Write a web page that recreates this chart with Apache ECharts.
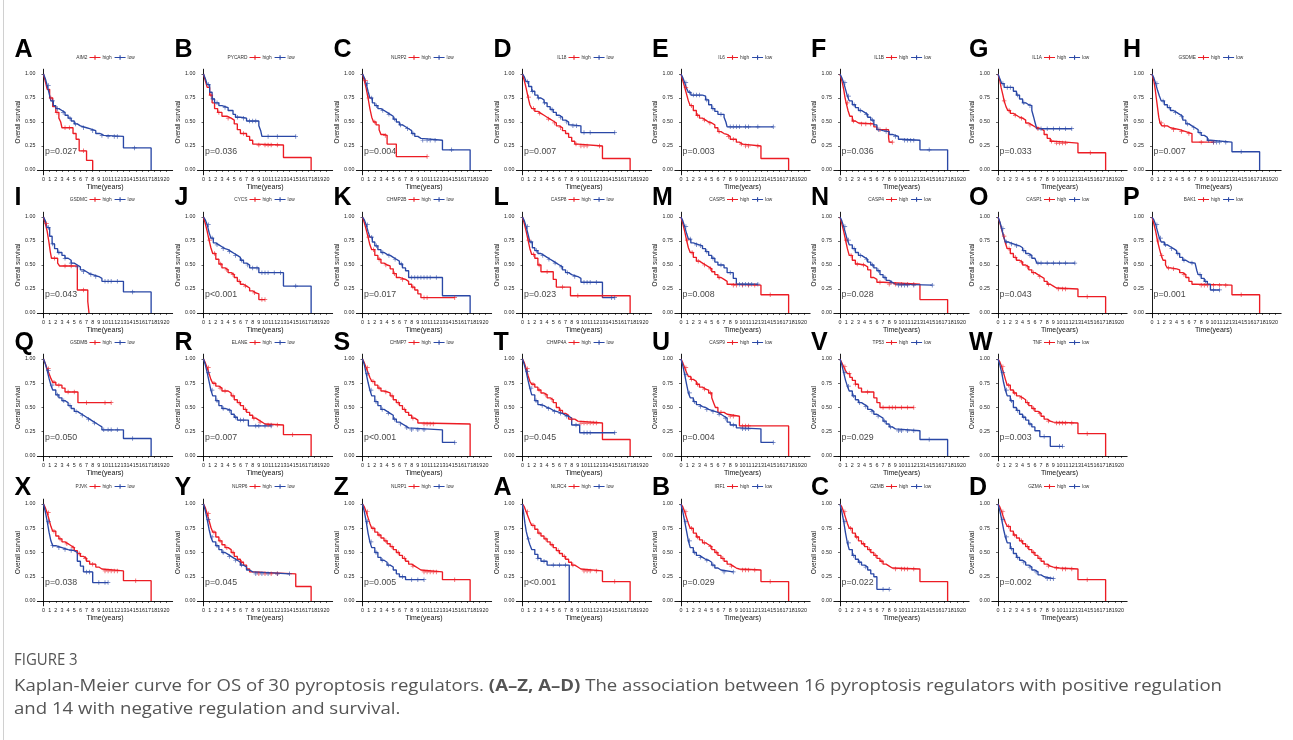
<!DOCTYPE html>
<html><head><meta charset="utf-8">
<script src="https://cdn.jsdelivr.net/npm/echarts@6/dist/echarts.min.js"></script>
<style>html,body{margin:0;padding:0;background:#fff}#c{width:1293px;height:740px}</style>
</head><body><div id="c"></div>
<script>
// ---------------- DATA ----------------
const letters = ['A','B','C','D','E','F','G','H','I','J','K','L','M','N','O','P','Q','R','S','T','U','V','W','X','Y','Z','A','B','C','D'];
const genes = ['AIM2','PYCARD','NLRP2','IL18','IL6','IL1B','IL1A','GSDME','GSDMC','CYCS','CHMP2B','CASP8','CASP5','CASP4','CASP1','BAK1','GSDMB','ELANE','CHMP7','CHMP4A','CASP9','TP53','TNF','PJVK','NLRP6','NLRP1','NLRC4','IRF1','GZMB','GZMA'];
const pvals = ['p=0.027','p=0.036','p=0.004','p=0.007','p=0.003','p=0.036','p=0.033','p=0.007','p=0.043','p<0.001','p=0.017','p=0.023','p=0.008','p=0.028','p=0.043','p=0.001','p=0.050','p=0.007','p<0.001','p=0.045','p=0.004','p=0.029','p=0.003','p=0.038','p=0.045','p=0.005','p<0.001','p=0.029','p=0.022','p=0.002'];
const xTicks = [0,1,2,3,4,5,6,7,8,9,10,11,12,13,14,15,16,17,18,19,20];
const yTicks = [0,0.25,0.5,0.75,1];

// Kaplan-Meier step curves: [time, survival] (value holds until next point)
const highCurves = [
[[0,1],[0.3,.92],[0.6,.84],[1,.75],[1.5,.66],[2,.6],[2.5,.54],[2.8,.5],[3,.44],[4.8,.38],[5.3,.32],[5.8,.2],[7,.1],[8,0]],
[[0,1],[0.3,.93],[0.6,.86],[1,.78],[1.4,.7],[1.8,.64],[2.3,.6],[3,.56],[3.8,.54],[4.5,.52],[5,.48],[5.5,.42],[6,.38],[7,.35],[7.5,.31],[8,.27],[8.5,.26],[13,.13],[17.5,0]],
[[0,1],[0.3,.93],[0.6,.85],[0.9,.75],[1.2,.64],[1.5,.55],[1.8,.5],[2.2,.47],[2.7,.42],[3,.37],[3.5,.36],[4,.27],[5.5,.14],[10.5,.14]],
[[0,1],[0.3,.93],[0.6,.85],[0.9,.76],[1.2,.68],[1.5,.64],[2,.61],[2.5,.59],[3,.57],[3.5,.55],[4,.53],[4.5,.51],[5,.49],[5.5,.46],[6,.44],[6.5,.41],[7,.38],[7.5,.34],[8,.3],[8.5,.27],[9,.25],[13,.12],[17.5,0]],
[[0,1],[0.3,.93],[0.6,.86],[0.9,.79],[1.2,.72],[1.5,.67],[2,.62],[2.5,.57],[3,.54],[3.5,.52],[4,.5],[4.5,.49],[5,.47],[5.5,.44],[6,.4],[6.5,.38],[7,.37],[7.5,.35],[8,.32],[9,.29],[9.5,.27],[10,.25],[13,.12],[17.5,0]],
[[0,1],[0.3,.93],[0.6,.84],[0.8,.76],[1,.7],[1.3,.62],[1.6,.56],[2,.51],[2.5,.49],[3,.48],[5.5,.45],[6,.42],[7.9,.34],[8,.29],[8.5,.29]],
[[0,1],[0.3,.93],[0.5,.86],[0.8,.78],[1,.72],[1.3,.66],[1.6,.62],[2,.59],[2.5,.57],[3,.55],[3.5,.54],[4,.52],[4.5,.49],[5,.47],[5.5,.45],[6,.43],[7,.41],[7.5,.37],[8,.33],[8.5,.3],[9,.28],[13,.18],[17.5,0]],
[[0,1],[0.3,.93],[0.5,.85],[0.7,.75],[0.9,.65],[1.1,.55],[1.3,.49],[1.6,.46],[2.5,.44],[3,.42],[4.5,.4],[5.5,.38],[6.5,.29],[10,.29]],
[[0,1],[0.3,.93],[0.6,.85],[0.9,.73],[1.1,.64],[1.3,.57],[2.3,.52],[2.6,.49],[5.5,.24],[7.2,.12],[7.4,0]],
[[0,1],[0.3,.93],[0.6,.85],[0.9,.76],[1.2,.68],[1.5,.62],[2,.56],[2.5,.51],[3,.47],[3.5,.45],[4,.42],[4.5,.4],[5,.37],[5.5,.33],[6,.3],[6.5,.28],[7,.26],[7.5,.23],[8,.21],[8.5,.2],[9,.14],[10,.14]],
[[0,1],[0.3,.94],[0.6,.87],[0.9,.79],[1.2,.71],[1.5,.66],[2,.6],[2.5,.56],[3,.52],[3.5,.5],[4,.49],[4.5,.46],[5,.41],[5.5,.37],[6,.35],[7,.33],[7.5,.3],[8,.27],[8.5,.24],[9,.2],[9.5,.16],[15,.16]],
[[0,1],[0.3,.93],[0.6,.85],[0.9,.76],[1.2,.67],[1.5,.61],[2,.57],[2.5,.5],[3,.43],[5,.35],[5.5,.27],[7.8,.18],[17.5,0]],
[[0,1],[0.3,.93],[0.6,.85],[0.9,.76],[1.2,.68],[1.5,.63],[2,.58],[2.5,.54],[3,.52],[3.5,.5],[4,.48],[4.5,.46],[5,.43],[5.5,.4],[6,.37],[6.5,.35],[7,.33],[7.5,.3],[8,.29],[13,.19],[17.5,0]],
[[0,1],[0.3,.93],[0.6,.85],[0.9,.76],[1.2,.67],[1.5,.6],[2,.55],[2.5,.51],[3,.5],[4,.48],[4.5,.45],[5,.37],[5.5,.35],[6,.32],[7,.3],[13,.14],[17.5,0]],
[[0,1],[0.3,.94],[0.6,.87],[0.9,.8],[1.2,.73],[1.5,.67],[2,.62],[2.5,.58],[3,.55],[3.5,.53],[4,.5],[4.5,.48],[5,.45],[5.5,.42],[6,.4],[6.5,.38],[7,.36],[7.5,.33],[8,.3],[8.5,.28],[9,.26],[9.5,.25],[13,.17],[17.5,0]],
[[0,1],[0.3,.93],[0.6,.85],[0.9,.75],[1.2,.67],[1.5,.6],[1.8,.55],[2.2,.5],[2.5,.47],[3,.46],[4,.45],[4.5,.42],[5,.4],[5.5,.37],[6,.33],[6.5,.3],[7,.29],[13,.19],[17.5,0]],
[[0,1],[0.3,.95],[0.6,.9],[0.9,.85],[1.2,.8],[1.5,.76],[2,.73],[3,.7],[3.5,.66],[5.6,.55],[11,.55]],
[[0,1],[0.3,.96],[0.6,.91],[0.9,.85],[1.2,.79],[1.5,.75],[2,.72],[2.5,.7],[3,.67],[4,.65],[4.5,.62],[5,.58],[5.5,.55],[6,.52],[6.5,.48],[7,.45],[7.5,.42],[8,.39],[8.5,.37],[9,.35],[9.5,.33],[10,.32],[13,.22],[17.5,0]],
[[0,1],[0.3,.96],[0.6,.91],[0.9,.86],[1.2,.81],[1.5,.77],[2,.73],[2.5,.7],[3,.67],[3.5,.66],[4,.65],[4.5,.62],[5,.58],[5.5,.55],[6,.52],[6.5,.48],[7,.45],[7.5,.42],[8,.39],[8.5,.37],[9,.34],[9.5,.33],[17.5,0]],
[[0,1],[0.3,.96],[0.6,.9],[0.9,.83],[1.2,.77],[1.5,.74],[2,.71],[2.5,.68],[3,.65],[3.5,.63],[4,.6],[4.5,.58],[5,.55],[5.5,.5],[6,.47],[6.5,.44],[7,.42],[7.5,.38],[8.5,.36],[9,.34],[13,.17],[17.5,0]],
[[0,1],[0.3,.96],[0.6,.91],[0.9,.86],[1.2,.82],[1.6,.79],[2,.77],[2.5,.74],[3,.71],[3.5,.69],[4,.68],[4.5,.65],[5,.6],[5.3,.55],[5.6,.5],[6,.45],[7,.43],[7.5,.41],[9.5,.31],[17.5,0]],
[[0,1],[0.3,.96],[0.6,.92],[0.9,.88],[1.2,.85],[1.6,.81],[2,.78],[2.5,.74],[3,.7],[3.5,.66],[5.5,.6],[6,.55],[6.5,.5],[12,.5]],
[[0,1],[0.3,.97],[0.6,.92],[0.9,.86],[1.2,.79],[1.5,.73],[2,.68],[2.5,.65],[3,.62],[3.5,.6],[4,.58],[4.5,.55],[5,.52],[5.5,.49],[6,.46],[6.5,.44],[7,.41],[7.5,.38],[8,.36],[8.5,.35],[9,.34],[13,.23],[17.5,0]],
[[0,1],[0.3,.96],[0.6,.91],[0.9,.84],[1.2,.77],[1.5,.72],[2,.67],[2.5,.64],[3,.61],[3.5,.59],[4,.57],[4.5,.55],[5,.52],[5.5,.49],[6,.46],[6.5,.44],[7,.41],[7.5,.38],[8.5,.35],[9,.33],[9.5,.31],[13,.21],[17.5,0]],
[[0,1],[0.3,.96],[0.6,.9],[0.9,.83],[1.2,.76],[1.5,.71],[2,.66],[2.5,.62],[3,.58],[3.5,.55],[4,.53],[4.5,.5],[5,.46],[5.5,.43],[6,.4],[6.5,.37],[7,.33],[7.5,.3],[8,.28],[15,.15],[17.5,0]],
[[0,1],[0.3,.97],[0.6,.92],[0.9,.86],[1.2,.8],[1.5,.75],[2,.71],[2.5,.68],[3,.65],[3.5,.62],[4,.59],[4.5,.56],[5,.53],[5.5,.5],[6,.47],[6.5,.44],[7,.41],[7.5,.38],[8,.36],[8.5,.34],[9,.32],[9.5,.3],[13,.22],[17.5,0]],
[[0,1],[0.3,.97],[0.6,.92],[0.9,.87],[1.2,.82],[1.5,.78],[2,.74],[2.5,.7],[3,.67],[3.5,.64],[4,.61],[4.5,.58],[5,.55],[5.5,.52],[6,.49],[6.5,.46],[7,.43],[7.5,.4],[8,.37],[8.5,.35],[9,.33],[9.5,.31],[13,.2],[17.5,0]],
[[0,1],[0.3,.97],[0.6,.92],[0.9,.86],[1.2,.8],[1.5,.75],[2,.7],[2.5,.66],[3,.63],[3.5,.6],[4,.58],[4.5,.56],[5,.53],[5.5,.5],[6,.47],[6.5,.44],[7,.41],[7.5,.38],[8,.36],[8.5,.34],[9,.33],[9.5,.32],[13,.2],[17.5,0]],
[[0,1],[0.3,.97],[0.6,.92],[0.9,.86],[1.2,.8],[1.5,.75],[2,.7],[2.5,.66],[3,.62],[3.5,.59],[4,.56],[4.5,.53],[5,.5],[5.5,.47],[6,.44],[6.5,.41],[7,.38],[7.5,.36],[8,.34],[8.5,.33],[13,.2],[17.5,0]],
[[0,1],[0.3,.97],[0.6,.92],[0.9,.86],[1.2,.81],[1.5,.77],[2,.72],[2.5,.68],[3,.65],[3.5,.62],[4,.59],[4.5,.56],[5,.53],[5.5,.5],[6,.47],[6.5,.44],[7,.41],[7.5,.38],[8,.36],[8.5,.35],[9,.34],[10,.33],[13,.22],[17.5,0]]
];
const lowCurves = [
[[0,1],[0.3,.95],[0.6,.88],[0.9,.8],[1.2,.72],[1.6,.67],[2,.64],[2.5,.62],[3,.6],[3.5,.57],[4,.54],[4.5,.51],[5,.48],[5.5,.46],[6,.44],[7,.43],[7.5,.41],[8.5,.38],[9.2,.36],[9.8,.35],[13,.23],[17.5,0]],
[[0,1],[0.3,.95],[0.6,.89],[1,.81],[1.4,.74],[1.8,.7],[2.5,.67],[3,.65],[4,.62],[4.8,.58],[5.2,.55],[6,.54],[7,.51],[9,.46],[9.3,.41],[9.5,.35],[15,.35]],
[[0,1],[0.3,.96],[0.6,.9],[0.9,.82],[1.2,.75],[1.6,.7],[2,.67],[2.5,.64],[3,.62],[3.5,.6],[4,.58],[4.5,.56],[5,.53],[5.5,.5],[6,.47],[6.5,.45],[7,.43],[7.5,.41],[8,.38],[8.5,.35],[9,.33],[9.5,.31],[13,.21],[17.5,0]],
[[0,1],[0.3,.97],[0.6,.92],[1,.87],[1.5,.82],[2,.78],[2.5,.75],[3,.73],[3.5,.7],[4,.66],[4.5,.63],[5,.6],[5.5,.57],[6,.55],[6.5,.52],[7,.5],[7.5,.47],[8,.46],[9.5,.39],[15,.39]],
[[0,1],[0.3,.96],[0.6,.91],[0.9,.85],[1.2,.81],[1.6,.78],[3.5,.77],[4,.73],[4.5,.68],[5,.64],[5.5,.61],[6,.58],[7,.55],[7.3,.5],[7.5,.45],[15,.45]],
[[0,1],[0.3,.96],[0.6,.91],[0.9,.84],[1.2,.77],[1.5,.72],[2,.68],[2.5,.65],[3,.62],[3.5,.6],[4,.58],[4.5,.55],[5,.52],[5.5,.47],[6,.42],[6.5,.41],[7,.4],[8,.37],[8.5,.35],[9.5,.32],[10,.31],[13,.21],[17.5,0]],
[[0,1],[0.3,.95],[0.6,.9],[1,.86],[2.5,.82],[3,.78],[3.5,.74],[4,.7],[4.5,.68],[5,.67],[5.5,.62],[5.8,.55],[6,.5],[6.3,.43],[12,.43]],
[[0,1],[0.3,.96],[0.6,.9],[0.9,.83],[1.2,.77],[1.5,.72],[2,.68],[2.5,.65],[3,.62],[3.5,.6],[4,.58],[4.5,.56],[5,.52],[5.5,.48],[6,.46],[6.5,.44],[7,.42],[7.5,.39],[8,.36],[8.5,.34],[9,.31],[9.5,.29],[13,.19],[17.5,0]],
[[0,1],[0.3,.96],[0.6,.89],[1,.8],[1.4,.72],[1.8,.67],[2.3,.63],[3,.6],[3.5,.57],[4,.55],[4.5,.52],[5,.5],[5.5,.48],[6,.45],[6.5,.43],[7,.41],[7.5,.4],[8,.38],[9,.36],[9.5,.33],[13,.22],[17.5,0]],
[[0,1],[0.3,.97],[0.6,.92],[0.9,.84],[1.2,.78],[1.6,.73],[2,.71],[2.5,.69],[3,.67],[3.5,.66],[4,.64],[4.5,.62],[5,.6],[5.5,.58],[6,.55],[6.5,.52],[7,.5],[7.5,.47],[9,.42],[13,.28],[17.5,0]],
[[0,1],[0.3,.97],[0.6,.92],[0.9,.85],[1.2,.79],[1.6,.74],[2,.7],[2.5,.66],[3,.63],[3.5,.61],[4,.6],[4.5,.58],[5,.56],[5.5,.54],[6,.51],[6.5,.47],[7,.44],[7.5,.37],[13,.18],[17.5,0]],
[[0,1],[0.3,.96],[0.6,.9],[0.9,.82],[1.2,.74],[1.6,.68],[2,.65],[2.5,.62],[3,.6],[3.5,.58],[4,.56],[4.5,.54],[5,.52],[5.5,.5],[6,.48],[6.5,.45],[7,.42],[7.5,.4],[8,.38],[9,.36],[9.5,.32],[13,.16],[15,.16]],
[[0,1],[0.3,.96],[0.6,.9],[0.9,.83],[1.2,.77],[1.6,.73],[2,.71],[3,.7],[3.5,.67],[4,.64],[4.5,.6],[5,.57],[5.5,.53],[6,.5],[7,.47],[7.5,.42],[8.5,.36],[9,.3],[12.5,.3]],
[[0,1],[0.3,.96],[0.6,.9],[0.9,.83],[1.2,.76],[1.5,.71],[2,.67],[2.5,.63],[3,.6],[3.5,.58],[4,.56],[4.5,.53],[5,.5],[5.5,.47],[6,.44],[6.5,.4],[7,.37],[7.5,.34],[8,.32],[8.5,.3],[9,.29],[15,.29]],
[[0,1],[0.3,.95],[0.6,.88],[0.9,.8],[1.2,.74],[1.6,.72],[2.5,.7],[3.5,.68],[4,.65],[4.5,.62],[5,.6],[5.5,.57],[6,.55],[6.3,.52],[12.5,.52]],
[[0,1],[0.3,.97],[0.6,.92],[0.9,.85],[1.2,.78],[1.5,.74],[2,.71],[2.5,.69],[3,.67],[3.5,.65],[4,.62],[4.5,.58],[5,.55],[5.5,.53],[6,.52],[7,.5],[7.3,.44],[7.5,.4],[8,.36],[8.5,.33],[9,.3],[9.5,.24],[11,.24]],
[[0,1],[0.3,.95],[0.6,.88],[0.9,.8],[1.2,.73],[1.5,.68],[2,.63],[2.5,.6],[3,.57],[3.5,.55],[4,.52],[4.5,.49],[5,.46],[5.5,.44],[6,.42],[6.5,.4],[7,.38],[7.5,.36],[8,.34],[8.5,.32],[9,.3],[9.5,.27],[13,.18],[17.5,0]],
[[0,1],[0.3,.94],[0.6,.86],[0.9,.77],[1.2,.68],[1.5,.62],[2,.57],[2.5,.52],[3,.49],[3.5,.48],[4,.47],[4.5,.43],[5,.4],[5.5,.37],[7.3,.31],[11,.31]],
[[0,1],[0.3,.94],[0.6,.85],[0.9,.76],[1.2,.68],[1.5,.62],[2,.56],[2.5,.52],[3,.48],[3.5,.46],[4,.44],[4.5,.42],[5,.38],[5.5,.35],[6,.33],[6.5,.31],[7,.29],[7.5,.27],[13,.14],[15,.14]],
[[0,1],[0.3,.94],[0.6,.87],[0.9,.78],[1.2,.7],[1.5,.63],[2,.57],[2.5,.53],[3,.52],[3.5,.5],[4,.49],[4.5,.47],[5,.46],[5.5,.45],[6,.44],[6.5,.42],[7,.41],[7.5,.39],[8,.32],[9.3,.24],[15,.24]],
[[0,1],[0.3,.93],[0.6,.84],[0.9,.74],[1.2,.65],[1.5,.6],[2,.56],[2.5,.53],[3,.51],[3.5,.5],[4,.48],[4.5,.47],[5,.46],[5.5,.45],[6,.43],[6.5,.41],[7,.39],[7.5,.35],[8,.32],[9,.29],[9.5,.28],[13,.14],[15,.14]],
[[0,1],[0.3,.94],[0.6,.86],[0.9,.78],[1.2,.72],[1.5,.67],[2,.62],[2.5,.58],[3,.55],[3.5,.53],[4,.51],[4.5,.48],[5,.46],[5.5,.43],[6,.41],[6.5,.39],[7,.36],[7.5,.33],[8,.3],[8.5,.28],[9,.26],[13,.17],[17.5,0]],
[[0,1],[0.3,.94],[0.6,.86],[0.9,.76],[1.2,.68],[1.5,.62],[2,.57],[2.5,.5],[3,.47],[3.5,.43],[4,.4],[4.5,.37],[5,.33],[5.5,.3],[6,.26],[6.8,.2],[8.5,.1],[10.5,.1]],
[[0,1],[0.3,.92],[0.6,.82],[0.9,.71],[1.2,.62],[1.5,.57],[2,.55],[3,.53],[4,.52],[5,.5],[5.5,.41],[6,.36],[6.5,.3],[8,.19],[10.5,.19]],
[[0,1],[0.3,.93],[0.6,.84],[0.9,.74],[1.2,.66],[1.5,.61],[2,.57],[2.5,.53],[3,.5],[3.5,.48],[4,.46],[4.5,.44],[5,.42],[5.5,.4],[6,.37],[6.5,.35],[7,.32],[7.5,.3],[8,.28],[14,.28]],
[[0,1],[0.3,.92],[0.6,.82],[0.9,.7],[1.2,.61],[1.5,.55],[2,.5],[2.5,.45],[3,.42],[3.5,.4],[4,.37],[4.5,.35],[5,.32],[5.5,.28],[6,.25],[7,.22],[10,.22]],
[[0,1],[0.2,.9],[0.4,.8],[0.6,.72],[0.9,.64],[1.2,.58],[1.5,.53],[2,.48],[2.5,.44],[3,.41],[4,.37],[7.6,0]],
[[0,1],[0.3,.92],[0.6,.82],[0.9,.72],[1.2,.62],[1.5,.55],[2,.5],[2.5,.47],[3,.45],[3.5,.43],[4,.42],[4.5,.4],[5,.37],[5.5,.34],[6,.32],[6.5,.3],[8.5,.3]],
[[0,1],[0.3,.92],[0.6,.82],[0.9,.7],[1.2,.6],[1.5,.53],[2,.47],[2.5,.43],[3,.4],[3.5,.37],[4,.35],[4.5,.32],[5,.28],[5.5,.25],[6,.12],[8,.12]],
[[0,1],[0.3,.93],[0.6,.84],[0.9,.74],[1.2,.66],[1.5,.6],[2,.54],[2.5,.49],[3,.45],[3.5,.42],[4,.4],[4.5,.37],[5,.35],[5.5,.32],[6,.3],[6.5,.27],[7,.25],[7.5,.23],[9,.23]]
];
// censoring times (years) for each curve
const highCensor = [
[1.2,2.2,3.5,4.2,6.5],[1.2,2.5,4,6.5,9,10,10.5,11,12],[0.5,1,2,3.7,10.5],[1,1.8,2.8,4.2,5.2,6.2,8.7,9.5,10,10.5,12.5],
[0.8,1.7,2.7,3.8,4.7,6.2,7.7,8.5,9.8,10.5,11,12.5],[1.2,2.2,3.5,4.2,5,6.5,7.5,8.5],[1,1.8,2.8,3.8,5.2,6.5,8.7,9.5,10,10.5,11,15],[1.5,2,3.5,4.8,6,8,10],
[0.5,1.8,3.5,4.5,6.5],[1,1.8,2.8,3.8,4.8,5.8,6.8,8.3,9.5,10],[1,1.8,2.7,3.8,5.2,6.5,8.2,10,10.5,15],[1,1.8,2.7,4,6.5,9,13],
[1,1.8,2.8,3.8,4.8,6.2,8.5,9,10,11,12,14.5],[1,1.8,2.8,3.8,6.5,8,9,10,11,12],[1,1.8,2.8,3.8,4.8,5.8,6.8,8.2,9.8,10.5,11,14.5],[1,1.6,2.7,3.5,5.2,8,8.5,9,10,11,12,14.5],
[0.8,1.7,2.5,4,5,7,10,11],[0.8,1.7,2.7,3.5,4.8,5.8,6.8,8.2,9.2,10.5,11,12,14.5],[0.8,1.7,2.7,3.8,4.8,5.8,6.8,8.2,10,10.5,11,11.5],[0.8,1.7,2.7,3.8,4.8,6.2,8,9.5,10,10.5,11,11.5,12],
[0.8,1.7,2.7,3.8,4.8,6.5,8,8.5,10,10.5,11],[0.8,1.5,2.5,4.5,7,8,8.5,9,10,11,12],[0.8,1.7,2.7,3.8,4.8,5.8,6.8,8.2,9.5,10,10.5,11,12,14.5],
[0.8,1.7,2.7,3.8,4.8,5.8,6.8,8,10,10.5,11,11.5,12,15],[0.8,1.7,2.7,3.8,4.8,6.2,9,10,11,12],[0.8,1.7,2.7,3.8,4.8,5.8,6.8,8.2,10,10.5,11,11.5,12,15],[0.8,1.7,2.7,3.8,4.8,5.8,6.8,8.2,10,10.5,11,12,15],
[0.8,1.7,2.7,3.8,4.8,5.8,6.8,8.2,10,10.5,11,12,14.5],[0.8,1.7,2.7,3.8,4.8,5.8,6.8,9,10,10.5,11,12],[0.8,1.7,2.7,3.8,4.8,5.8,6.8,8.2,9.5,10.5,11,12,14.5]
];
const lowCensor = [
[0.8,1.5,2.3,3.2,4.3,5.2,6.5,8,9.5,10.5,11.5,12,14.8],[0.8,1.5,2.2,3.5,5.5,6.5,7.5,8,8.5,10.5,12,15],[0.8,1.5,2.3,3.3,4.3,5.2,6.2,7.3,8.2,9.8,10.5,11,11.8,14.5],[0.8,1.6,2.6,3.6,4.8,6.2,7.2,8.2,8.8,10,11,15],
[0.8,1.4,2,2.5,3,4.2,5.2,6.5,8,8.5,9,9.5,10.5,11,12.5,15],[0.8,1.4,2.3,3.3,4.3,5.3,6.3,7.5,9,10.5,11,11.5,12,14.5],[0.8,1.5,2,3.2,4.2,5.2,7,8,9,10,11,12],[0.8,1.8,2.8,3.8,4.8,5.8,6.8,7.8,9.2,10,10.5,11,12,14.5],
[0.8,1.5,2.5,3.5,4.5,5.5,6.5,7.7,8.5,10,10.5,11,12,14.5],[0.8,1.4,2.2,3.2,4.2,5.2,6.2,7.2,8,8.7,9.5,10,10.5,11.5,12.5,15],[0.8,1.5,2.3,3.3,4.3,5.3,6.3,8,8.5,9,9.5,10,10.5,11,12],[0.8,1.4,2.3,3.3,4.3,5.3,6.3,7.3,8.5,10,10.5,11,12,14.5,15],
[0.8,1.5,2.5,3.2,4.2,5.2,6.5,8,9.5,10,10.5,11,11.5,12.5],[0.8,1.4,2.3,3.3,4.3,5.3,6.3,7.3,8.3,9.5,10,10.5,11,12,15],[0.8,1.4,2.2,3,4.2,5.2,6.5,7,8,9,10,11,12.5],[0.8,1.4,2.2,3.2,4.2,5.2,6.5,7.8,8.7,10,11],
[0.8,1.4,2.3,3.3,4.3,5.3,6.3,7.3,8.3,9.8,10.5,11,12,14.5],[0.8,1.4,2.2,3.2,4.2,5.2,6,6.5,8.5,9,10,11],[0.8,1.4,2.2,3.2,4.2,5.2,6.2,7.2,8,9,10,15],[0.8,1.4,2.2,3.2,4.2,5.2,6.2,7.2,8.7,10,10.5,11,15],
[0.8,1.4,2.2,3.2,4.2,5.2,6.2,7.2,8.5,10,10.5,11,15],[0.8,1.4,2.2,3.2,4.2,5.2,6.2,7.2,8.2,9.5,10,11,12,14.5],[0.8,1.4,2.2,3.2,4.2,5.2,7.5,10,10.5],
[0.8,1.5,2.5,3.5,4.5,7,7.5,9,10,10.5],[0.8,1.4,2.2,3.2,4.2,5.2,6.2,8.5,9.5,10.5,12,14],[0.8,1.4,2.2,3.2,4.2,6.5,8,9,10],[1,2.5,3.5,5,6,7],
[0.8,1.4,2.2,3.2,4.2,5.2,7,8.5],[0.8,1.4,2.2,3.2,4.2,7,8],[0.8,1.4,2.2,3.2,4.2,5.2,6.2,8,8.5,9]
];

// ---------------- LAYOUT / STYLE ----------------
const RED = '#ec1c24', BLUE = '#2a48a6';
const COLX = [43.5, 203.5, 362.5, 522.5, 681, 840, 998, 1152]; // pixel of t=0
const ROW_Y1 = [74, 217, 359, 504];   // pixel of S=1
const ROW_Y0 = [170, 313, 456, 601];  // pixel of S=0
const LEG_Y = [58, 200, 343, 487];
const LET_Y = [50, 198, 343, 488];
const PXY = 6.15;
const FONT = '"Liberation Sans", Arial, sans-serif';
const PLUS = 'path://M0,4.2L10,4.2L10,5.8L0,5.8Z M4.2,0L5.8,0L5.8,10L4.2,10Z';
const LEGICON = 'path://M0,4.4L14,4.4L14,5.6L0,5.6Z M6.3,2L7.7,2L7.7,8L6.3,8Z';

function pos(i){
  let r, c;
  if (i < 8) { r = 0; c = i; } else if (i < 16) { r = 1; c = i - 8; }
  else if (i < 23) { r = 2; c = i - 16; } else { r = 3; c = i - 23; }
  return { r, c, x0: COLX[c], y1: ROW_Y1[r], y0: ROW_Y0[r] };
}
function stepAt(curve, t){
  let v = curve[0][1];
  for (const p of curve) { if (p[0] <= t) v = p[1]; else break; }
  return v;
}

const grid = [], xAxis = [], yAxis = [], series = [], legend = [], graphic = [];
for (let i = 0; i < 30; i++) {
  const p = pos(i);
  const h = p.y0 - p.y1;
  grid.push({ left: p.x0 - PXY, width: 22 * PXY, top: p.y1 - 0.05 * h, height: 1.1 * h, containLabel: false });
  xAxis.push({
    type: 'value', gridIndex: i, min: -1, max: 21, interval: 1,
    axisLine: { show: true, lineStyle: { color: '#000', width: 0.9 } },
    axisTick: { show: true, customValues: xTicks, length: 2, lineStyle: { color: '#000', width: 0.6 } },
    axisLabel: { customValues: xTicks, fontSize: 5.4, margin: 2.5, color: '#222', fontFamily: FONT, hideOverlap: false },
    splitLine: { show: false },
    name: 'Time(years)', nameLocation: 'middle', nameGap: 9,
    nameTextStyle: { fontSize: 7, color: '#111', fontFamily: FONT }
  });
  yAxis.push({
    type: 'value', gridIndex: i, min: -0.05, max: 1.05,
    axisLine: { show: true, lineStyle: { color: '#000', width: 0.9 } },
    axisTick: { show: true, customValues: yTicks, length: 2, lineStyle: { color: '#000', width: 0.6 } },
    axisLabel: { customValues: yTicks, fontSize: 5.3, margin: 2, color: '#222', fontFamily: FONT, formatter: v => v.toFixed(2) },
    splitLine: { show: false },
    name: 'Overall survival', nameLocation: 'middle', nameGap: 12,
    nameTextStyle: { fontSize: 6.3, color: '#111', fontFamily: FONT }
  });
  const mk = (name, data, color) => ({
    name, type: 'line', xAxisIndex: i, yAxisIndex: i, data, step: 'end',
    showSymbol: false, symbol: 'none', color, lineStyle: { color, width: 1.35 }, z: 3, silent: true
  });
  const cens = (name, curve, times, color) => ({
    name, type: 'scatter', xAxisIndex: i, yAxisIndex: i,
    data: times.map(t => [t, stepAt(curve, t)]),
    symbol: PLUS, symbolSize: 4.5, itemStyle: { color }, z: 4, silent: true
  });
  series.push(mk('high', highCurves[i], RED));
  series.push(mk('low', lowCurves[i], BLUE));
  series.push(cens('high', highCurves[i], highCensor[i], RED));
  series.push(cens('low', lowCurves[i], lowCensor[i], BLUE));
  series.push({
    type: 'scatter', xAxisIndex: i, yAxisIndex: i, data: [[0.25, 0.19]], symbolSize: 0, silent: true,
    label: { show: true, position: 'right', distance: 0, formatter: pvals[i], fontSize: 8.8, color: '#111', fontFamily: FONT }
  });
  legend.push({
    left: p.x0 + 46, top: LEG_Y[p.r] - 3, data: ['high', 'low'], icon: LEGICON,
    itemWidth: 11, itemHeight: 5, itemGap: 3, selectedMode: false, padding: 0,
    textStyle: { fontSize: 4.8, color: '#333', fontFamily: FONT, padding: [0, 0, 0, -3] }
  });
  graphic.push({ type: 'text', x: p.x0 + 44, y: LEG_Y[p.r] - 0.5,
    style: { text: genes[i], fontSize: 4.8, fill: '#333', fontFamily: FONT, align: 'right', verticalAlign: 'middle' } });
  graphic.push({ type: 'text', x: p.x0 - 29, y: LET_Y[p.r],
    style: { text: letters[i], fontSize: 25, fontWeight: 'bold', fill: '#000', fontFamily: FONT, align: 'left', verticalAlign: 'middle' } });
}

// caption
const CAP_FONT = '"Open Sans", "Noto Sans", sans-serif';
const capLine1a = 'Kaplan-Meier curve for OS of 30 pyroptosis regulators. ';
const capLine1b = '(A–Z, A–D)';
const capLine1c = ' The association between 16 pyroptosis regulators with positive regulation';
const capLine2 = 'and 14 with negative regulation and survival.';
function measure(txt, weight, size){
  const cv = document.createElement('canvas').getContext('2d');
  cv.font = weight + ' ' + size + 'px ' + CAP_FONT;
  return cv.measureText(txt).width;
}
const CAPS = 16;
const w1 = measure(capLine1a, 'normal', CAPS) + measure(capLine1b, 'bold', CAPS) + measure(capLine1c, 'normal', CAPS);
const sx = 1208 / w1;
graphic.push({ type: 'text', x: 14, y: 660, scaleX: 0.88,
  style: { text: 'FIGURE 3', fontSize: 17, fill: '#555', fontFamily: CAP_FONT, verticalAlign: 'middle' } });
graphic.push({ type: 'text', x: 14, y: 686, scaleX: sx,
  style: { text: '{n|' + capLine1a + '}{b|' + capLine1b + '}{n|' + capLine1c + '}', verticalAlign: 'middle',
    rich: { n: { fontSize: CAPS, fill: '#555', fontFamily: CAP_FONT }, b: { fontSize: CAPS, fontWeight: 'bold', fill: '#555', fontFamily: CAP_FONT } } } });
graphic.push({ type: 'text', x: 14, y: 709, scaleX: sx,
  style: { text: capLine2, fontSize: CAPS, fill: '#555', fontFamily: CAP_FONT, verticalAlign: 'middle' } });
graphic.push({ type: 'line', shape: { x1: 3.5, y1: 0, x2: 3.5, y2: 740 }, style: { stroke: '#d0d0d0', lineWidth: 1 } });

const chart = echarts.init(document.getElementById('c'), null, { renderer: 'canvas' });
chart.setOption({ animation: false, backgroundColor: '#fff', grid, xAxis, yAxis, series, legend, graphic });
</script></body></html>
